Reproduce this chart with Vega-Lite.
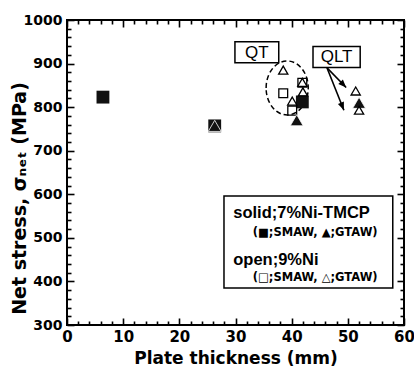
{
  "$schema": "https://vega.github.io/schema/vega-lite/v6.json",
  "width": 337,
  "height": 305,
  "autosize": "none",
  "padding": {"left": 67, "top": 20, "right": 10, "bottom": 42},
  "background": "white",
  "config": {
    "view": {"stroke": "black", "strokeWidth": 2},
    "axis": {"domain": false, "grid": false, "tickColor": "black", "tickWidth": 1.6, "labelColor": "black", "titleColor": "black", "labelOverlap": false, "labelFlush": false}
  },
  "datasets": {
    "pts": [
      {"t": 6.4, "s": 823, "steel": "solid", "weld": "SMAW"},
      {"t": 26.3, "s": 757, "steel": "solid", "weld": "SMAW"},
      {"t": 41.9, "s": 812, "steel": "solid", "weld": "SMAW"},
      {"t": 26.3, "s": 757, "steel": "solid", "weld": "GTAW"},
      {"t": 40.9, "s": 770, "steel": "solid", "weld": "GTAW"},
      {"t": 52.0, "s": 810, "steel": "solid", "weld": "GTAW"},
      {"t": 38.5, "s": 832, "steel": "open", "weld": "SMAW"},
      {"t": 41.9, "s": 856, "steel": "open", "weld": "SMAW"},
      {"t": 40.1, "s": 792, "steel": "open", "weld": "SMAW"},
      {"t": 38.5, "s": 885, "steel": "open", "weld": "GTAW"},
      {"t": 41.9, "s": 857, "steel": "open", "weld": "GTAW"},
      {"t": 42.0, "s": 835, "steel": "open", "weld": "GTAW"},
      {"t": 40.1, "s": 814, "steel": "open", "weld": "GTAW"},
      {"t": 51.4, "s": 837, "steel": "open", "weld": "GTAW"},
      {"t": 52.0, "s": 793, "steel": "open", "weld": "GTAW"}
    ],
    "arrows": [
      {"x1": 46.3, "y1": 890, "x2": 49.7, "y2": 845},
      {"x1": 46.3, "y1": 890, "x2": 49.3, "y2": 793}
    ],
    "one": [{}]
  },
  "layer": [
    {
      "data": {"name": "pts"},
      "mark": {"type": "point", "opacity": 0},
      "encoding": {
        "x": {"field": "t", "type": "quantitative", "scale": {"domain": [0, 60], "nice": false, "zero": false},
          "axis": {"orient": "bottom", "values": [0, 10, 20, 30, 40, 50, 60], "format": "d", "tickSize": -7, "labelPadding": 11, "labelFont": "DejaVu Sans", "labelFontWeight": "bold", "labelFontSize": 15,
            "title": "Plate thickness (mm)", "titleFont": "DejaVu Sans", "titleFontWeight": "bold", "titleFontSize": 17, "titleBaseline": "middle", "titleY": 33}},
        "y": {"field": "s", "type": "quantitative", "scale": {"domain": [300, 1000], "nice": false, "zero": false},
          "axis": {"orient": "left", "values": [300, 400, 500, 600, 700, 800, 900, 1000], "format": "d", "tickSize": -7, "labelPadding": 12, "labelFont": "DejaVu Sans", "labelFontWeight": "bold", "labelFontSize": 14,
            "title": "Net stress, σₙₑₜ (MPa)", "titleFont": "DejaVu Sans", "titleFontWeight": "bold", "titleFontSize": 19, "titleBaseline": "middle", "titleX": -48, "titleY": 178}}
      }
    },
    {
      "data": {"name": "pts"},
      "mark": {"type": "point", "opacity": 0},
      "encoding": {
        "x": {"field": "t", "type": "quantitative", "axis": {"orient": "bottom", "values": [2,4,6,8,12,14,16,18,22,24,26,28,32,34,36,38,42,44,46,48,52,54,56,58], "tickSize": -4, "labels": false, "title": null}},
        "y": {"field": "s", "type": "quantitative", "axis": {"orient": "left", "values": [320,340,360,380,420,440,460,480,520,540,560,580,620,640,660,680,720,740,760,780,820,840,860,880,920,940,960,980], "tickSize": -4, "labels": false, "title": null}}
      }
    },
    {
      "data": {"name": "pts"},
      "mark": {"type": "point", "opacity": 0},
      "encoding": {
        "x": {"field": "t", "type": "quantitative", "axis": {"orient": "top", "values": [0, 10, 20, 30, 40, 50, 60], "tickSize": -7, "labels": false, "title": null}},
        "y": {"field": "s", "type": "quantitative", "axis": {"orient": "right", "values": [300, 400, 500, 600, 700, 800, 900, 1000], "tickSize": -7, "labels": false, "title": null}}
      }
    },
    {
      "data": {"name": "pts"},
      "mark": {"type": "point", "opacity": 0},
      "encoding": {
        "x": {"field": "t", "type": "quantitative", "axis": {"orient": "top", "values": [2,4,6,8,12,14,16,18,22,24,26,28,32,34,36,38,42,44,46,48,52,54,56,58], "tickSize": -4, "labels": false, "title": null}},
        "y": {"field": "s", "type": "quantitative", "axis": {"orient": "right", "values": [320,340,360,380,420,440,460,480,520,540,560,580,620,640,660,680,720,740,760,780,820,840,860,880,920,940,960,980], "tickSize": -4, "labels": false, "title": null}}
      }
    },
    {
      "data": {"name": "one"},
      "mark": {"type": "point", "shape": "M-0.78,0 A0.78,1 0 1,1 0.78,0 A0.78,1 0 1,1 -0.78,0 Z", "size": 2916, "stroke": "black", "strokeWidth": 1.5, "strokeDash": [5, 3], "filled": false, "opacity": 1},
      "encoding": {"x": {"datum": 39.2, "type": "quantitative", "axis": null}, "y": {"datum": 844, "type": "quantitative", "axis": null}}
    },
    {
      "data": {"name": "one"},
      "mark": {"type": "rect", "fill": "white", "stroke": "black", "strokeWidth": 1.5},
      "encoding": {"x": {"datum": 29.9, "type": "quantitative", "axis": null}, "x2": {"datum": 37.7}, "y": {"datum": 950, "type": "quantitative", "axis": null}, "y2": {"datum": 902}}
    },
    {
      "data": {"name": "one"},
      "mark": {"type": "text", "text": "QT", "font": "Liberation Sans", "fontSize": 17, "align": "center", "baseline": "middle"},
      "encoding": {"x": {"datum": 33.8, "type": "quantitative", "axis": null}, "y": {"datum": 925, "type": "quantitative", "axis": null}}
    },
    {
      "data": {"name": "one"},
      "mark": {"type": "rect", "fill": "white", "stroke": "black", "strokeWidth": 1.5},
      "encoding": {"x": {"datum": 43.8, "type": "quantitative", "axis": null}, "x2": {"datum": 52.2}, "y": {"datum": 939, "type": "quantitative", "axis": null}, "y2": {"datum": 891}}
    },
    {
      "data": {"name": "one"},
      "mark": {"type": "text", "text": "QLT", "font": "Liberation Sans", "fontSize": 17, "align": "center", "baseline": "middle"},
      "encoding": {"x": {"datum": 48.0, "type": "quantitative", "axis": null}, "y": {"datum": 914, "type": "quantitative", "axis": null}}
    },
    {
      "data": {"name": "arrows"},
      "mark": {"type": "rule", "stroke": "black", "strokeWidth": 1.6},
      "encoding": {"x": {"field": "x1", "type": "quantitative", "axis": null}, "y": {"field": "y1", "type": "quantitative", "axis": null}, "x2": {"field": "x2"}, "y2": {"field": "y2"}}
    },
    {
      "data": {"name": "one"},
      "mark": {"type": "point", "shape": "M0,0 L0.4,1 L-0.4,1 Z", "size": 256, "filled": true, "fill": "black", "opacity": 1, "angle": 136},
      "encoding": {"x": {"datum": 49.7, "type": "quantitative", "axis": null}, "y": {"datum": 845, "type": "quantitative", "axis": null}}
    },
    {
      "data": {"name": "one"},
      "mark": {"type": "point", "shape": "M0,0 L0.4,1 L-0.4,1 Z", "size": 256, "filled": true, "fill": "black", "opacity": 1, "angle": 158},
      "encoding": {"x": {"datum": 49.3, "type": "quantitative", "axis": null}, "y": {"datum": 793, "type": "quantitative", "axis": null}}
    },
    {
      "data": {"name": "one"},
      "mark": {"type": "rect", "fill": "white", "stroke": "black", "strokeWidth": 1.5},
      "encoding": {"x": {"datum": 27.95, "type": "quantitative", "axis": null}, "x2": {"datum": 58.0}, "y": {"datum": 596, "type": "quantitative", "axis": null}, "y2": {"datum": 385}}
    },
    {
      "data": {"name": "one"},
      "mark": {"type": "text", "text": "solid;7%Ni-TMCP", "font": "Liberation Sans", "fontWeight": "bold", "fontSize": 16.5, "align": "left", "baseline": "middle"},
      "encoding": {"x": {"datum": 29.6, "type": "quantitative", "axis": null}, "y": {"datum": 557, "type": "quantitative", "axis": null}}
    },
    {
      "data": {"name": "one"},
      "mark": {"type": "text", "text": "(■;SMAW, ▲;GTAW)", "font": "DejaVu Sans", "fontWeight": "bold", "fontSize": 11.5, "align": "right", "baseline": "middle"},
      "encoding": {"x": {"datum": 55.3, "type": "quantitative", "axis": null}, "y": {"datum": 512, "type": "quantitative", "axis": null}}
    },
    {
      "data": {"name": "one"},
      "mark": {"type": "text", "text": "open;9%Ni", "font": "Liberation Sans", "fontWeight": "bold", "fontSize": 16.5, "align": "left", "baseline": "middle"},
      "encoding": {"x": {"datum": 29.6, "type": "quantitative", "axis": null}, "y": {"datum": 449, "type": "quantitative", "axis": null}}
    },
    {
      "data": {"name": "one"},
      "mark": {"type": "text", "text": "(□;SMAW, △;GTAW)", "font": "DejaVu Sans", "fontWeight": "bold", "fontSize": 11.5, "align": "right", "baseline": "middle"},
      "encoding": {"x": {"datum": 55.3, "type": "quantitative", "axis": null}, "y": {"datum": 408, "type": "quantitative", "axis": null}}
    },
    {
      "data": {"name": "pts"},
      "transform": [{"filter": "datum.steel === 'solid' && datum.weld === 'SMAW'"}],
      "mark": {"type": "point", "shape": "square", "size": 165, "filled": true, "fill": "#111", "opacity": 1},
      "encoding": {"x": {"field": "t", "type": "quantitative", "axis": null}, "y": {"field": "s", "type": "quantitative", "axis": null}}
    },
    {
      "data": {"name": "pts"},
      "transform": [{"filter": "datum.steel === 'open' && datum.weld === 'SMAW'"}],
      "mark": {"type": "point", "shape": "square", "size": 78, "filled": false, "stroke": "black", "strokeWidth": 1.3, "opacity": 1},
      "encoding": {"x": {"field": "t", "type": "quantitative", "axis": null}, "y": {"field": "s", "type": "quantitative", "axis": null}}
    },
    {
      "data": {"name": "pts"},
      "transform": [{"filter": "datum.steel === 'solid' && datum.weld === 'GTAW'"}],
      "mark": {"type": "point", "shape": "triangle-up", "size": 165, "filled": true, "fill": "#111", "stroke": "white", "strokeWidth": 0.8, "opacity": 1},
      "encoding": {"x": {"field": "t", "type": "quantitative", "axis": null}, "y": {"field": "s", "type": "quantitative", "axis": null}}
    },
    {
      "data": {"name": "pts"},
      "transform": [{"filter": "datum.steel === 'open' && datum.weld === 'GTAW'"}],
      "mark": {"type": "point", "shape": "triangle-up", "size": 85, "filled": false, "stroke": "black", "strokeWidth": 1.3, "opacity": 1},
      "encoding": {"x": {"field": "t", "type": "quantitative", "axis": null}, "y": {"field": "s", "type": "quantitative", "axis": null}}
    }
  ],
  "resolve": {"axis": {"x": "independent", "y": "independent"}}
}
